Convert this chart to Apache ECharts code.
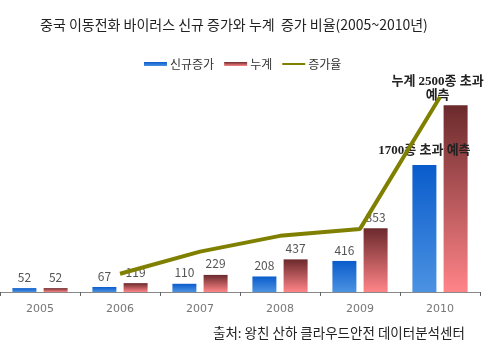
<!DOCTYPE html>
<html>
<head>
<meta charset="utf-8">
<script src="https://cdn.jsdelivr.net/npm/echarts@6/dist/echarts.min.js"></script>
<style>
  html, body { margin: 0; padding: 0; background: #fff; }
  #chart { width: 500px; height: 348px; }
</style>
</head>
<body>
<div id="chart"></div>
<script>
// values
var years = ['2005', '2006', '2007', '2008', '2009', '2010'];
var newCount = [52, 67, 110, 208, 416, 1700];
var totalCount = [52, 119, 229, 437, 853, 2500];
var growthRate = ['-', 29, 64, 89, 100, 309];

var myChart = echarts.init(document.getElementById('chart'));
var font = '"Noto Sans CJK KR", "DejaVu Sans", sans-serif';
var serifFont = '"Liberation Serif", "Noto Sans CJK KR", serif';

function grad(top, bottom) {
    return new echarts.graphic.LinearGradient(0, 0, 0, 1, [
        { offset: 0, color: top },
        { offset: 1, color: bottom }
    ]);
}

var blueData = newCount.map(function (v, i) {
    if (i === years.length - 1) {
        return {
            value: v,
            label: {
                formatter: '1700종 초과 예측',
                fontFamily: serifFont,
                fontWeight: 'bold',
                color: '#222',
                fontSize: 13,
                distance: 8
            }
        };
    }
    return v;
});
var redData = totalCount.map(function (v, i) {
    if (i === years.length - 1) {
        return {
            value: v,
            label: {
                formatter: '누계 2500종 초과\n예측',
                fontFamily: serifFont,
                fontWeight: 'bold',
                color: '#222',
                fontSize: 13,
                lineHeight: 14,
                distance: 3,
                offset: [-18, 0]
            }
        };
    }
    return v;
});

var option = {
    animation: false,
    textStyle: { fontFamily: font },
    title: {
        text: '중국 이동전화 바이러스 신규 증가와 누계  증가 비율(2005~2010년)',
        left: 35,
        top: 13,
        textStyle: { fontSize: 14, fontWeight: 'normal', color: '#222', fontFamily: font }
    },
    legend: {
        top: 53,
        left: 139,
        itemWidth: 23,
        itemHeight: 4,
        itemGap: 10,
        textStyle: { fontSize: 12, color: '#333', padding: [0, 0, 0, -2] },
        data: [
            { name: '신규증가', icon: 'rect' },
            { name: '누계', icon: 'rect' },
            { name: '증가율', icon: 'path://M0,0H23V2H0Z' }
        ]
    },
    grid: { left: 0, right: 20, top: 68, bottom: 56 },
    xAxis: {
        type: 'category',
        data: years,
        axisLine: { lineStyle: { color: '#888', width: 1 } },
        axisTick: { show: true, length: 4, lineStyle: { color: '#666' } },
        axisLabel: { color: '#777', fontSize: 11, margin: 12, fontFamily: '"DejaVu Sans", sans-serif' }
    },
    yAxis: [
        { type: 'value', min: 0, max: 3000, show: false, splitLine: { show: false } },
        { type: 'value', min: 0, max: 355, show: false, splitLine: { show: false } }
    ],
    series: [
        {
            name: '신규증가',
            type: 'bar',
            barWidth: 24,
            barGap: '30%',
            data: blueData,
            itemStyle: { color: grad('#0a5ccc', '#4b92e2') },
            label: { show: true, position: 'top', color: '#555', fontSize: 12, distance: 5 }
        },
        {
            name: '누계',
            type: 'bar',
            barWidth: 24,
            data: redData,
            itemStyle: { color: grad('#6b2a2c', '#ff8488') },
            label: { show: true, position: 'top', color: '#555', fontSize: 12, distance: 5 }
        },
        {
            name: '증가율',
            type: 'line',
            yAxisIndex: 1,
            data: growthRate,
            symbol: 'none',
            z: 5,
            lineStyle: { color: '#808000', width: 4 },
            itemStyle: { color: '#808000' }
        }
    ],
    graphic: [
        {
            type: 'text',
            left: 213,
            top: 326,
            style: {
                text: '출처: 왕친 산하 클라우드안전 데이터분석센터',
                fontSize: 13.5,
                fill: '#222',
                fontFamily: font
            }
        }
    ]
};

myChart.setOption(option);
</script>
</body>
</html>
